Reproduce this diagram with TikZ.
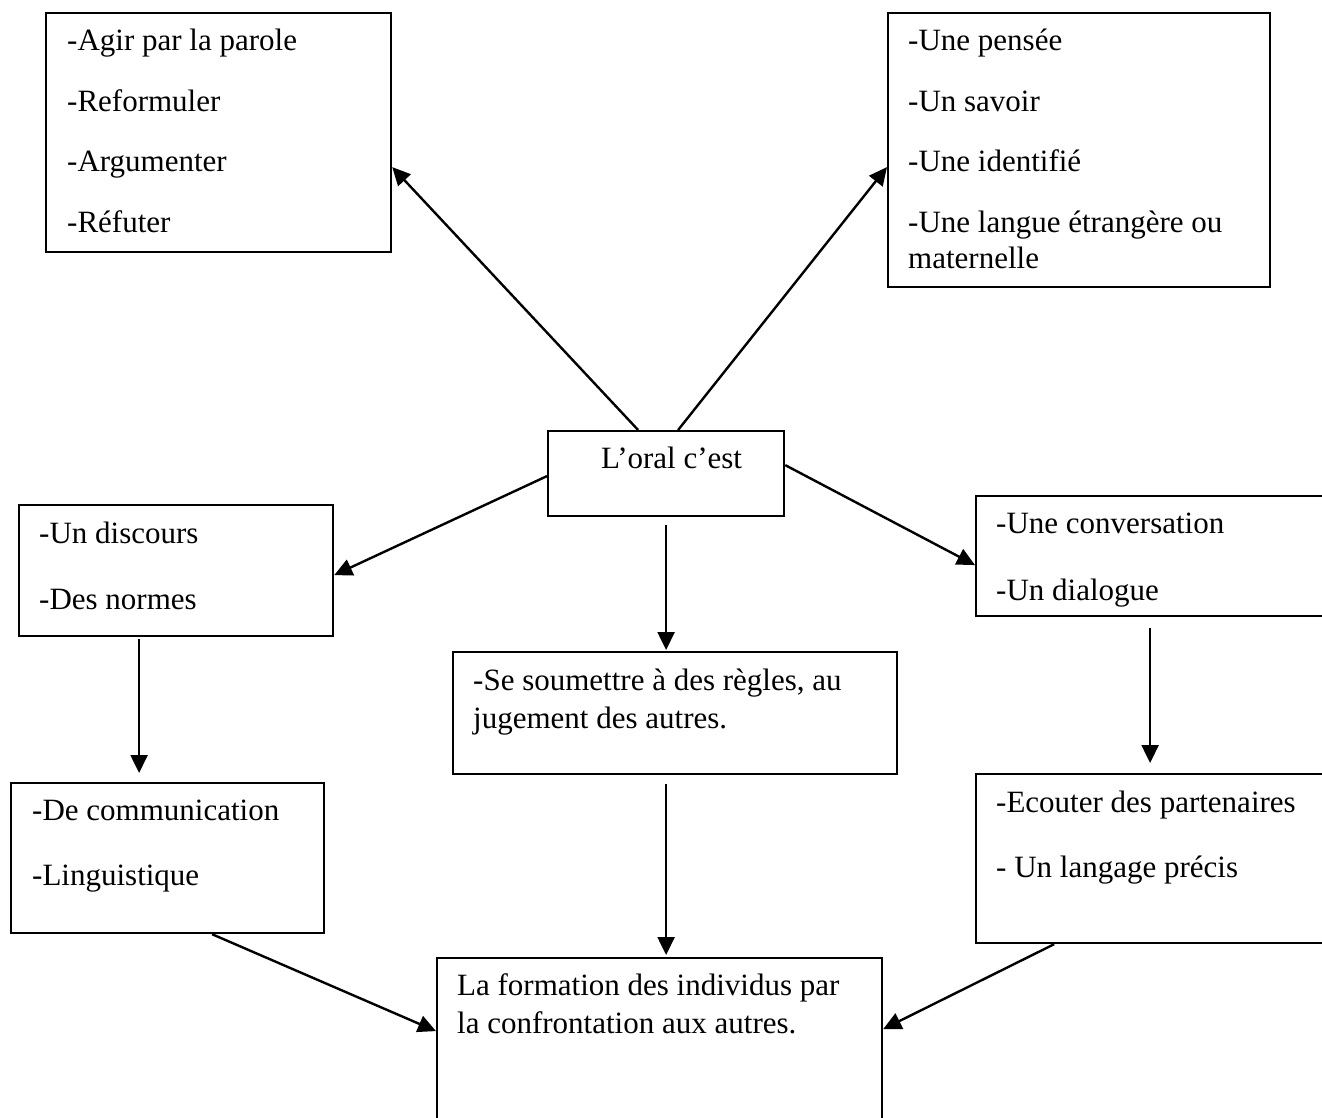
\documentclass[tikz,border=0pt]{standalone}
\usepackage{fontspec}
\setmainfont{Liberation Serif}
\usetikzlibrary{arrows.meta}
\tikzset{
	boite/.style = {draw=black, line width=2.2pt, inner sep=0pt,
		anchor=north west},% cadre
	ligne/.style = {anchor=base west, inner sep=0pt,
		font=\fontsize{31}{37}\selectfont},% une ligne de texte
	fleche/.style = {line width=2.4pt, -{Triangle[length=18pt,width=17pt]}}% fleche pleine
}
\begin{document}
\begin{tikzpicture}[x=1pt,y=-1pt]
	\useasboundingbox (0,0) rectangle (1322,1118);
	\clip (0,0) rectangle (1322,1118);
	% les cadres
	\node [boite, minimum width=345pt, minimum height=239pt] (agir) at (45,12) {};
	\node [boite, minimum width=382pt, minimum height=274pt] (pensee) at (887,12) {};
	\node [boite, minimum width=236pt, minimum height=85pt] (oral) at (547,430) {};
	\node [boite, minimum width=314pt, minimum height=131pt] (discours) at (18,504) {};
	\node [boite, minimum width=365pt, minimum height=120pt] (conv) at (975,495) {};
	\node [boite, minimum width=444pt, minimum height=122pt] (regles) at (452,651) {};
	\node [boite, minimum width=313pt, minimum height=150pt] (comm) at (10,782) {};
	\node [boite, minimum width=365pt, minimum height=169pt] (ecoute) at (975,773) {};
	\node [boite, minimum width=445pt, minimum height=183pt] (formation) at (436,957) {};
	% les textes
	\node [ligne] (agir1) at (67,51) {-Agir par la parole};
	\node [ligne] (agir2) at (67,112) {-Reformuler};
	\node [ligne] (agir3) at (67,172) {-Argumenter};
	\node [ligne] (agir4) at (67,233) {-Réfuter};
	\node [ligne] (pensee1) at (908,51) {-Une pensée};
	\node [ligne] (pensee2) at (908,112) {-Un savoir};
	\node [ligne] (pensee3) at (908,172) {-Une identifié};
	\node [ligne] (pensee4) at (908,233) {-Une langue étrangère ou};
	\node [ligne] (pensee5) at (908,268) {maternelle};
	\node [ligne] (oral1) at (601,468) {L’oral c’est};
	\node [ligne] (discours1) at (39,543) {-Un discours};
	\node [ligne] (discours2) at (39,609) {-Des normes};
	\node [ligne] (conv1) at (996,533) {-Une conversation};
	\node [ligne] (conv2) at (996,600) {-Un dialogue};
	\node [ligne] (regles1) at (473,690) {-Se soumettre à des règles, au};
	\node [ligne] (regles2) at (473,728) {jugement des autres.};
	\node [ligne] (comm1) at (32,820) {-De communication};
	\node [ligne] (comm2) at (32,885) {-Linguistique};
	\node [ligne] (ecoute1) at (996,812) {-Ecouter des partenaires};
	\node [ligne] (ecoute2) at (996,877) {- Un langage précis};
	\node [ligne] (formation1) at (457,995) {La formation des individus par};
	\node [ligne] (formation2) at (457,1033) {la confrontation aux autres.};
	% les fleches
	\draw [fleche] ([xshift=-28pt]oral.north) -- ([yshift=-34.5pt]agir.east);
	\draw [fleche] ([xshift=12pt]oral.north) -- ([yshift=-17pt]pensee.west);
	\draw [fleche] ([yshift=-2.5pt]oral.west) -- ([yshift=-4.5pt]discours.east);
	\draw [fleche] ([yshift=8.5pt]oral.east) -- ([yshift=-9pt]conv.west);
	\draw [fleche] ([yshift=-8pt]oral.south) -- ([xshift=-9pt,yshift=1pt]regles.north);
	\draw [fleche] ([xshift=-37pt,yshift=-2pt]discours.south) -- ([xshift=-28.5pt,yshift=9pt]comm.north);
	\draw [fleche] ([xshift=-8.5pt,yshift=-11pt]conv.south) -- ([xshift=-8.5pt,yshift=10pt]ecoute.north);
	\draw [fleche] ([xshift=-9pt,yshift=-9pt]regles.south) -- ([xshift=6.5pt,yshift=2pt]formation.north);
	\draw [fleche] ([xshift=44.5pt]comm.south) -- ([yshift=18.5pt]formation.west);
	\draw [fleche] ([xshift=-104.5pt]ecoute.south) -- ([yshift=20.5pt]formation.east);
\end{tikzpicture}
\end{document}
